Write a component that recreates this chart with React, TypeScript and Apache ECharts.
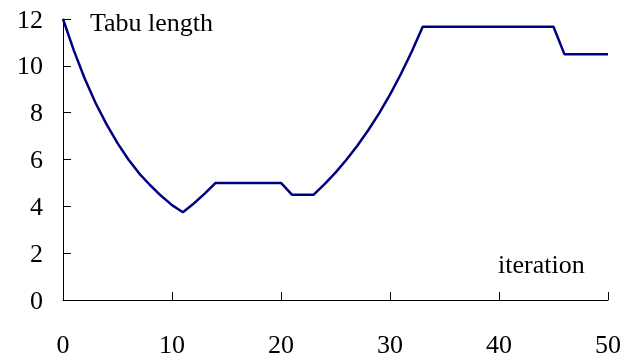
import React, { useEffect, useRef } from "react";
import * as echarts from "echarts";

const iterations: number[] = [
  0, 1, 2, 3, 4, 5, 6, 7, 8, 9, 10, 11, 12, 13, 14, 15, 16, 17, 18, 19, 20,
  21, 22, 23, 24, 25, 26, 27, 28, 29, 30, 31, 32, 33, 34, 35, 36, 37, 38, 39,
  40, 41, 42, 43, 44, 45, 46, 47, 48, 49, 50,
];
const tabuLength: number[] = [
  12, 10.65, 9.45, 8.4, 7.5, 6.7, 6.0, 5.4, 4.9, 4.45, 4.05, 3.75, 4.12, 4.54,
  5.0, 5.0, 5.0, 5.0, 5.0, 5.0, 5.0, 4.5, 4.5, 4.5, 4.95, 5.44, 5.99, 6.59,
  7.25, 7.97, 8.77, 9.65, 10.61, 11.67, 11.67, 11.67, 11.67, 11.67, 11.67,
  11.67, 11.67, 11.67, 11.67, 11.67, 11.67, 11.67, 10.5, 10.5, 10.5, 10.5, 10.5,
];
const yLabelText = "Tabu length";
const xLabelText = "iteration";

const FONT = "Liberation Serif";
const FS = 26;

export default function App() {
  const ref = useRef<HTMLDivElement>(null);
  useEffect(() => {
    if (!ref.current) return;
    const chart = echarts.init(ref.current, null, { renderer: "svg" });
    chart.setOption({
      animation: false,
      grid: { left: 63, right: 31, top: 19, bottom: 60, containLabel: false },
      xAxis: {
        type: "value",
        min: 0,
        max: 50,
        interval: 10,
        axisLine: { show: true, lineStyle: { color: "#000", width: 1 } },
        axisTick: { show: true, inside: true, length: 8, lineStyle: { color: "#000" } },
        axisLabel: { color: "#000", fontFamily: FONT, fontSize: FS, margin: 31 },
        splitLine: { show: false },
      },
      yAxis: {
        type: "value",
        min: 0,
        max: 12,
        interval: 2,
        axisLine: { show: true, lineStyle: { color: "#000", width: 1 } },
        axisTick: { show: true, inside: true, length: 8, lineStyle: { color: "#000" } },
        axisLabel: { color: "#000", fontFamily: FONT, fontSize: FS, margin: 20 },
        splitLine: { show: false },
      },
      series: [
        {
          type: "line",
          data: iterations.map((x, i) => [x, tabuLength[i]]),
          showSymbol: false,
          lineStyle: { color: "#000080", width: 2.5 },
        },
      ],
      graphic: [
        {
          type: "text",
          left: 90,
          top: 9,
          style: { text: yLabelText, fill: "#000", fontSize: FS, fontFamily: FONT },
        },
        {
          type: "text",
          left: 498,
          top: 251,
          style: { text: xLabelText, fill: "#000", fontSize: FS, fontFamily: FONT },
        },
      ],
    });
    return () => chart.dispose();
  }, []);
  return (
    <div
      ref={ref}
      style={{ position: "fixed", left: 0, top: 0, width: 639, height: 360 }}
    />
  );
}
